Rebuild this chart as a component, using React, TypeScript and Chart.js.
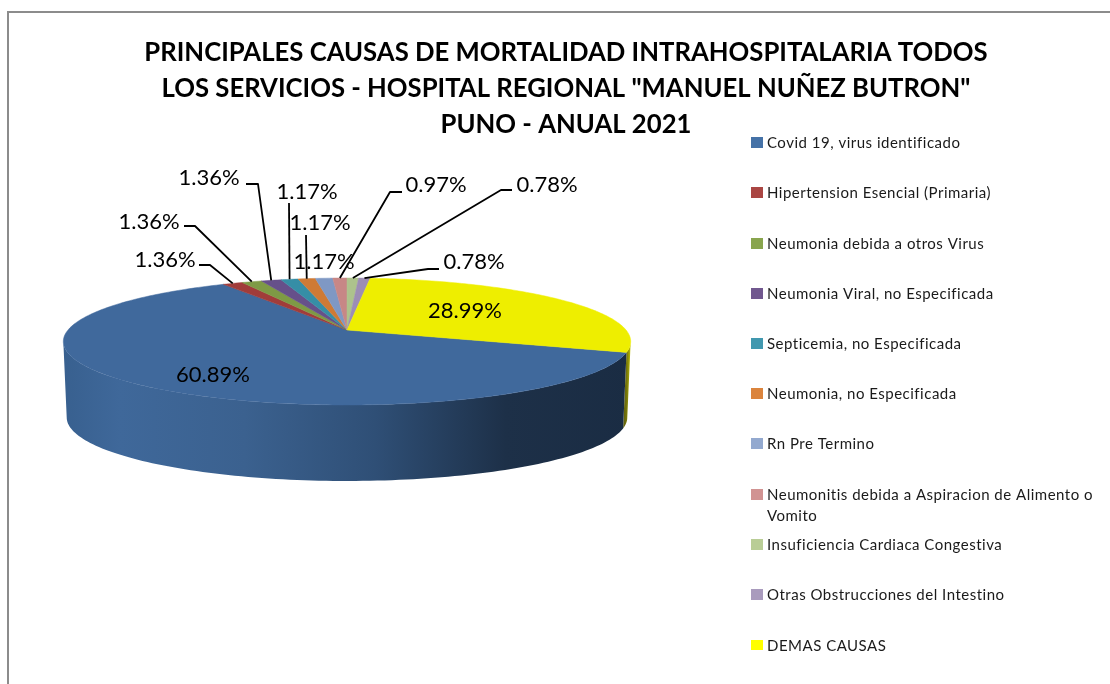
import React, { useEffect, useRef } from "react";
import { Chart, registerables } from "chart.js";

Chart.register(...registerables);

const titleLines = [
  "PRINCIPALES CAUSAS DE MORTALIDAD INTRAHOSPITALARIA TODOS",
  'LOS SERVICIOS - HOSPITAL REGIONAL "MANUEL NUÑEZ BUTRON"',
  "PUNO - ANUAL 2021",
];
const categories = [
  "Covid 19, virus identificado",
  "Hipertension Esencial (Primaria)",
  "Neumonia debida a otros Virus",
  "Neumonia Viral, no Especificada",
  "Septicemia, no Especificada",
  "Neumonia, no Especificada",
  "Rn Pre Termino",
  ["Neumonitis debida a Aspiracion de Alimento o", "Vomito"],
  "Insuficiencia Cardiaca Congestiva",
  "Otras Obstrucciones del Intestino",
  "DEMAS CAUSAS",
];
const percentages = [60.89, 1.36, 1.36, 1.36, 1.17, 1.17, 1.17, 0.97, 0.78, 0.78, 28.99];
const topColors = ["#40699c", "#a13c3a", "#7e9a45", "#66508a", "#368ea6", "#cf7a35", "#7f98c4", "#c78786", "#adc28c", "#9c8db5", "#eeee00"];
const legendColors = ["#4572a7", "#aa4643", "#89a54e", "#71588f", "#4198af", "#db843d", "#93a9cf", "#d19392", "#b9cd96", "#a99bbd", "#ffff00"];

// Layout only: label centres and leader elbow points
const labelCenters = [[213, 375], [165, 260], [149, 222], [209, 178], [307, 192], [320, 223], [324, 262], [436, 185], [547, 185], [474, 262], [465, 311]];
const leaderElbows: number[][][] = [
  [],
  [[199, 265], [210, 265]],
  [[184, 226], [195, 226]],
  [[246, 184], [258, 184]],
  [[289, 203]],
  [[306, 235]],
  [],
  [[402, 192], [390, 192]],
  [[512, 190], [501, 190]],
  [[439, 269], [428, 269]],
  [],
];
const legendRows = [142, 192, 243, 293, 343, 393, 443, 494, 544, 594, 645];

const CX = 347, CY = 330, K = 0.181, AY = 61.4, BX = 279, WALL = 76, WALL_SCALE = 0.988;
const ROTATION = 110;

function project(theta: number, r = 1, wall = false) {
  const u = Math.sin(theta) * r;
  const v = -Math.cos(theta) * r;
  const d = 1 - K * v;
  const s = wall ? WALL_SCALE : 1;
  return { x: CX + (BX * u * s) / d, y: CY + (AY * v) / d + (wall ? WALL : 0) };
}

// chart.js arc angles are measured from 3 o'clock; convert to clockwise-from-top
const toTheta = (a: number) => a + Math.PI / 2;

const pie3d = {
  id: "pie3d",
  beforeDatasetDraw(chart: any) {
    const ctx: CanvasRenderingContext2D = chart.ctx;
    const arcs = chart.getDatasetMeta(0).data;
    const rightSil = Math.acos(-K);
    const leftSil = 2 * Math.PI - rightSil;

    const wallPath = (a: number, b: number) => {
      ctx.beginPath();
      const n = 120;
      for (let i = 0; i <= n; i++) {
        const p = project(a + ((b - a) * i) / n);
        i ? ctx.lineTo(p.x, p.y) : ctx.moveTo(p.x, p.y);
      }
      for (let i = n; i >= 0; i--) {
        const p = project(a + ((b - a) * i) / n, 1, true);
        ctx.lineTo(p.x, p.y);
      }
      ctx.closePath();
    };

    ctx.save();
    const covidStart = toTheta(arcs[0].startAngle);
    const yg = ctx.createLinearGradient(619, 0, 632, 0);
    yg.addColorStop(0, "#3d3d14");
    yg.addColorStop(0.6, "#77770a");
    yg.addColorStop(1, "#d8d800");
    ctx.fillStyle = yg;
    wallPath(rightSil, covidStart);
    ctx.fill();

    const g = ctx.createLinearGradient(63, 0, 631, 0);
    g.addColorStop(0, "#38608f");
    g.addColorStop(0.1, "#3f689a");
    g.addColorStop(0.32, "#3b618f");
    g.addColorStop(0.55, "#2f4f76");
    g.addColorStop(0.78, "#1d3048");
    g.addColorStop(1, "#1a2c43");
    ctx.fillStyle = g;
    wallPath(covidStart, leftSil);
    ctx.fill();

    arcs.forEach((arc: any, i: number) => {
      const a = toTheta(arc.startAngle), b = toTheta(arc.endAngle);
      const n = Math.max(4, Math.ceil((b - a) * 60));
      ctx.beginPath();
      ctx.moveTo(CX, CY);
      for (let j = 0; j <= n; j++) {
        const p = project(a + ((b - a) * j) / n);
        ctx.lineTo(p.x, p.y);
      }
      ctx.closePath();
      ctx.fillStyle = topColors[i];
      ctx.strokeStyle = topColors[i];
      ctx.lineWidth = 0.5;
      ctx.fill();
      ctx.stroke();
    });
    ctx.restore();
    return false;
  },
  afterDraw(chart: any) {
    const ctx: CanvasRenderingContext2D = chart.ctx;
    const arcs = chart.getDatasetMeta(0).data;
    ctx.save();

    ctx.strokeStyle = "#8c8c8c";
    ctx.lineWidth = 2;
    ctx.beginPath();
    ctx.moveTo(8, 684);
    ctx.lineTo(8, 12);
    ctx.lineTo(1110, 12);
    ctx.stroke();

    ctx.strokeStyle = "#000";
    ctx.lineWidth = 1.8;
    ctx.lineJoin = "round";
    arcs.forEach((arc: any, i: number) => {
      const elbows = leaderElbows[i];
      if (!elbows.length) return;
      const mid = project(toTheta((arc.startAngle + arc.endAngle) / 2));
      ctx.beginPath();
      elbows.forEach((p, j) => (j ? ctx.lineTo(p[0], p[1]) : ctx.moveTo(p[0], p[1])));
      ctx.lineTo(mid.x, mid.y);
      ctx.stroke();
    });

    ctx.fillStyle = "#000";
    ctx.font = "22px Lato";
    ctx.textAlign = "center";
    ctx.textBaseline = "middle";
    percentages.forEach((v, i) => {
      ctx.fillText(v.toFixed(2) + "%", labelCenters[i][0], labelCenters[i][1]);
    });

    ctx.font = "15px Lato";
    ctx.textAlign = "left";
    (ctx as any).letterSpacing = "0.5px";
    categories.forEach((c, i) => {
      const y = legendRows[i];
      ctx.fillStyle = legendColors[i];
      ctx.fillRect(751, y - 5, 12, i === 10 ? 10 : 11);
      ctx.fillStyle = "#1a1a1a";
      const lines = Array.isArray(c) ? c : [c];
      lines.forEach((t, j) => ctx.fillText(t, 767, y + 1 + j * 21));
    });
    ctx.restore();
  },
};

export default function App() {
  const ref = useRef<HTMLCanvasElement>(null);
  useEffect(() => {
    const chart = new Chart(ref.current!, {
      type: "pie",
      data: {
        labels: categories.map((c) => (Array.isArray(c) ? c.join(" ") : c)),
        datasets: [{ data: percentages, backgroundColor: topColors, borderWidth: 0 }],
      },
      options: {
        responsive: false,
        animation: false,
        rotation: ROTATION,
        layout: { padding: { left: 22, top: 16, right: 0, bottom: 0 } },
        plugins: {
          legend: { display: false },
          tooltip: { enabled: false },
          title: {
            display: true,
            text: titleLines,
            color: "#000",
            font: { family: "Lato", size: 25.7, weight: "bold", lineHeight: 36 / 25.7 },
            padding: { top: 19, bottom: 0 },
          },
        },
      },
      plugins: [pie3d],
    } as any);
    return () => chart.destroy();
  }, []);
  return (
    <div style={{ position: "fixed", left: 0, top: 0, width: 1110, height: 684, background: "#fff", overflow: "hidden" }}>
      <canvas ref={ref} width={1110} height={684} style={{ display: "block", width: 1110, height: 684 }} />
    </div>
  );
}
